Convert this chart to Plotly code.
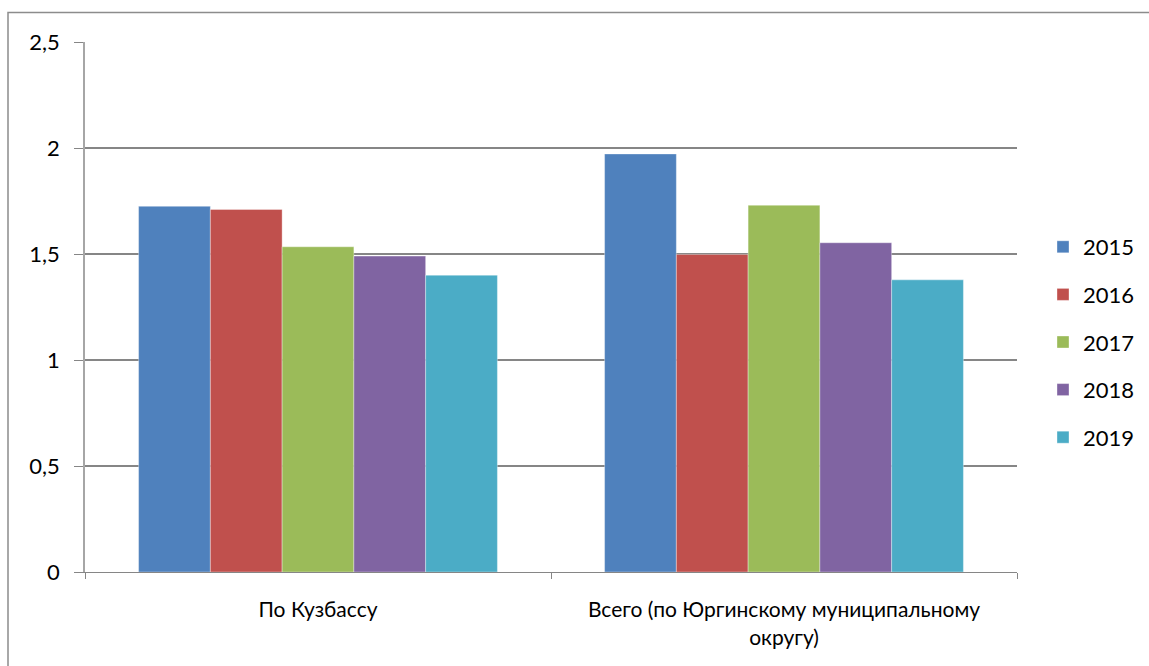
import plotly.graph_objects as go

categories = ["По Кузбассу", "Всего (по Юргинскому муниципальному<br>округу)"]
years = ["2015", "2016", "2017", "2018", "2019"]
values_2015 = [1.725, 1.972]
values_2016 = [1.71, 1.498]
values_2017 = [1.534, 1.73]
values_2018 = [1.49, 1.553]
values_2019 = [1.40, 1.378]
colors = ["#4F81BD", "#C0504D", "#9BBB59", "#8064A2", "#4BACC6"]

series = [values_2015, values_2016, values_2017, values_2018, values_2019]

fig = go.Figure()
for name, vals, col in zip(years, series, colors):
    fig.add_trace(go.Bar(
        x=categories, y=vals, name=name, legendgroup=name,
        marker=dict(color=col, line=dict(color="rgba(255,255,255,0.35)", width=1)),
    ))

W, H = 1149, 666
L, R, T, B = 85, 1017, 42, 572
FONT = "Lato, 'Open Sans', sans-serif"
fig.update_layout(
    width=W, height=H,
    margin=dict(l=L, r=W - R, t=T, b=H - B, autoexpand=False),
    paper_bgcolor="white", plot_bgcolor="white",
    barmode="group", bargap=0.23, bargroupgap=0,
    separators=", ",
    font=dict(family=FONT, size=22, color="#000000"),
    legend=dict(
        x=(1043 - L) / (R - L), xanchor="left",
        y=(B - 342) / (B - T), yanchor="middle",
        font=dict(size=22),
        itemwidth=30, tracegroupgap=16,
        bgcolor="rgba(0,0,0,0)",
    ),
    xaxis=dict(
        showgrid=False, showline=True, linecolor="#868686", linewidth=1,
        ticks="outside", tickson="boundaries", ticklen=6, tickcolor="#868686",
        tickfont=dict(size=21, family=FONT),
        ticklabelstandoff=19, automargin=False,
    ),
    yaxis=dict(
        range=[0, 2.5], dtick=0.5, tick0=0,
        showgrid=True, gridcolor="#868686", gridwidth=1.5,
        showline=True, linecolor="#A6A6A6", linewidth=1.5,
        ticks="outside", ticklen=9, tickcolor="#868686",
        tickfont=dict(size=22, family=FONT),
        ticklabelstandoff=10, automargin=False,
        zeroline=False,
    ),
    shapes=[dict(
        type="rect", xref="paper", yref="paper",
        x0=(8 - L) / (R - L), x1=(1160 - L) / (R - L),
        y0=(B - 700) / (B - T), y1=1 + (T - 12.5) / (B - T),
        line=dict(color="#8C8C8C", width=1.5), fillcolor="rgba(0,0,0,0)",
        layer="below",
    )],
)

fig.write_html(
    "out.html",
    config={"displayModeBar": False},
    post_script="document.body.style.margin='0';document.body.style.overflow='hidden';",
)
